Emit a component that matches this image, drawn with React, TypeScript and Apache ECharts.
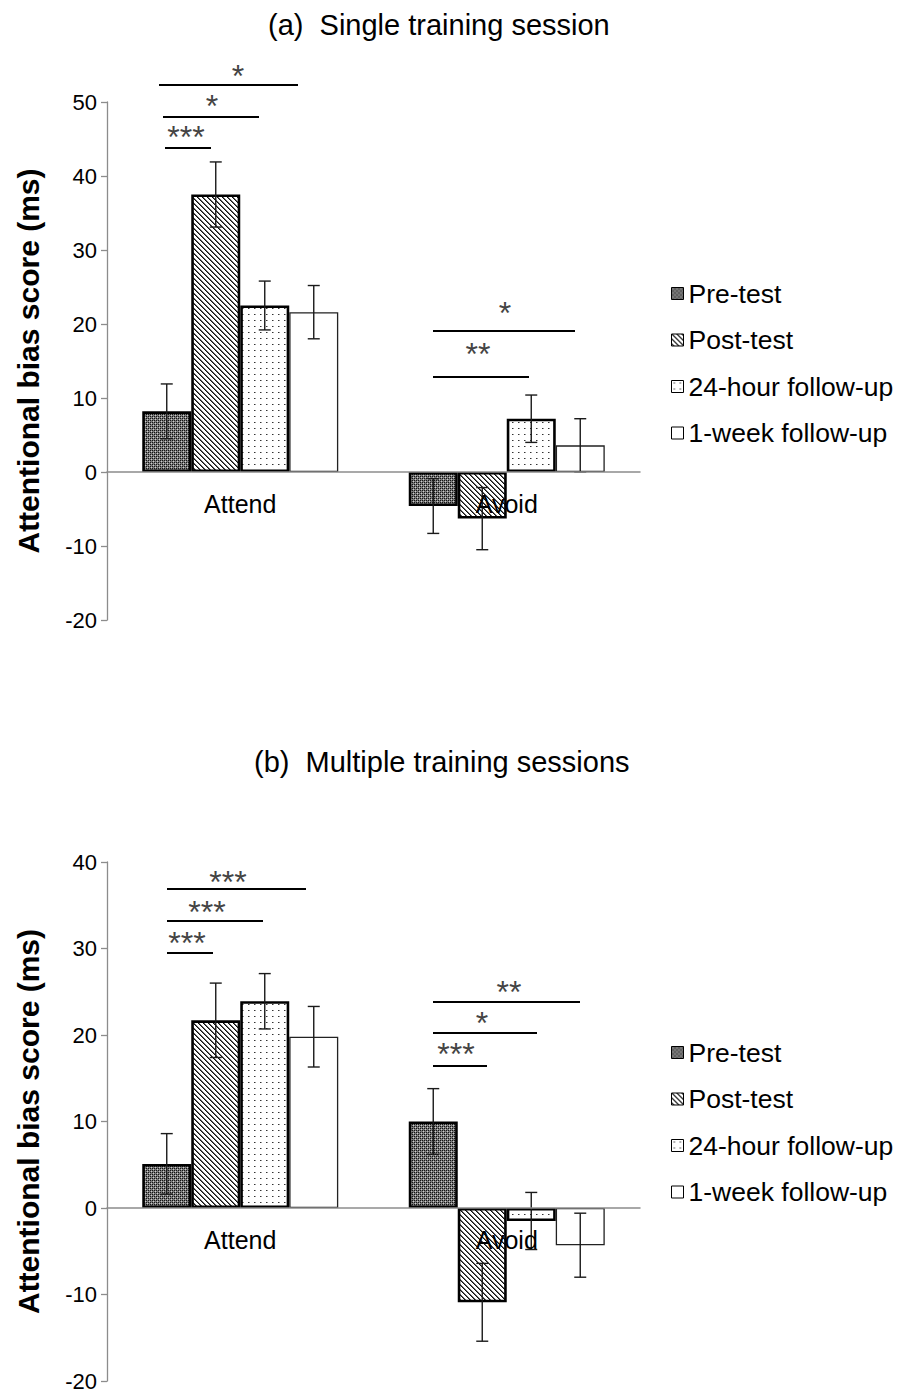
import React, { useEffect, useRef } from "react";
import * as echarts from "echarts";

const categories = ["Attend", "Avoid"];
const seriesNames = ["Pre-test", "Post-test", "24-hour follow-up", "1-week follow-up"];
const yTicksA = { min: -20, max: 50, interval: 10 };
const yTicksB = { min: -20, max: 40, interval: 10 };

// (a) Single training session: means and standard errors [Attend, Avoid]
const singlePre = [8.2, -4.6];
const singlePost = [37.5, -6.3];
const single24h = [22.5, 7.2];
const single1w = [21.6, 3.6];
const singlePreErr = [3.7, 3.7];
const singlePostErr = [4.4, 4.2];
const single24hErr = [3.3, 3.2];
const single1wErr = [3.6, 3.6];

// (b) Multiple training sessions
const multiPre = [5.1, 10.0];
const multiPost = [21.7, -10.9];
const multi24h = [23.9, -1.5];
const multi1w = [19.8, -4.3];
const multiPreErr = [3.5, 3.8];
const multiPostErr = [4.3, 4.5];
const multi24hErr = [3.2, 3.3];
const multi1wErr = [3.5, 3.7];

// significance annotations (labels)
const sigA = [
  { label: "*", x1: 159, x2: 298, y: 85, tx: 238, ty: 72 },
  { label: "*", x1: 163, x2: 259, y: 117, tx: 212, ty: 102 },
  { label: "***", x1: 165, x2: 211, y: 148, tx: 186, ty: 133 },
  { label: "*", x1: 433, x2: 575, y: 331, tx: 505, ty: 309 },
  { label: "**", x1: 433, x2: 529, y: 377, tx: 478, ty: 350 },
];
const sigB = [
  { label: "***", x1: 167, x2: 306, y: 889, tx: 228, ty: 878 },
  { label: "***", x1: 167, x2: 263, y: 921, tx: 207, ty: 908 },
  { label: "***", x1: 167, x2: 213, y: 953, tx: 187, ty: 939 },
  { label: "**", x1: 433, x2: 580, y: 1002, tx: 509, ty: 988 },
  { label: "*", x1: 433, x2: 537, y: 1033, tx: 482, ty: 1019 },
  { label: "***", x1: 433, x2: 487, y: 1066, tx: 456, ty: 1050 },
];

const FONT = "'Liberation Sans', Arial, sans-serif";
const BAR_W = 49;
const AXIS_COLOR = "#8c8c8c";

function tile(size: number, draw: (ctx: CanvasRenderingContext2D) => void) {
  const c = document.createElement("canvas");
  c.width = size;
  c.height = size;
  const ctx = c.getContext("2d")!;
  draw(ctx);
  return c;
}

function makePatterns() {
  const pre = tile(4, (ctx) => {
    ctx.fillStyle = "#7a7a7a";
    ctx.fillRect(0, 0, 4, 4);
    ctx.fillStyle = "#141414";
    ctx.fillRect(0, 0, 1, 1);
    ctx.fillRect(2, 2, 1, 1);
    ctx.fillRect(2, 0, 1, 1);
    ctx.fillRect(0, 2, 1, 1);
    ctx.fillStyle = "#cccccc";
    ctx.fillRect(1, 1, 1, 1);
    ctx.fillRect(3, 3, 1, 1);
  });
  const post = tile(5, (ctx) => {
    ctx.fillStyle = "#ffffff";
    ctx.fillRect(0, 0, 5, 5);
    for (let y = 0; y < 5; y++) {
      for (let x = 0; x < 5; x++) {
        const d = (((x - y) % 5) + 5) % 5;
        if (d === 0) {
          ctx.fillStyle = "#111";
          ctx.fillRect(x, y, 1, 1);
        } else if (d === 1) {
          ctx.fillStyle = "#666";
          ctx.fillRect(x, y, 1, 1);
        }
      }
    }
  });
  const h24 = tile(6, (ctx) => {
    ctx.fillStyle = "#ffffff";
    ctx.fillRect(0, 0, 6, 6);
    ctx.fillStyle = "#333";
    ctx.fillRect(2, 2, 1, 1);
    ctx.fillStyle = "#999";
    ctx.fillRect(3, 2, 1, 1);
  });
  const mk = (c: HTMLCanvasElement) => ({
    image: c,
    repeat: "repeat",
    imageWidth: c.width,
    imageHeight: c.height,
  });
  return [mk(pre), mk(post), mk(h24), "#ffffff"];
}

export default function App() {
  const ref = useRef<HTMLDivElement>(null);
  useEffect(() => {
    document.body.style.margin = "0";
    const chart = echarts.init(ref.current!, undefined, { renderer: "svg" });
    const patterns = makePatterns();

    const panels = [
      {
        means: [singlePre, singlePost, single24h, single1w],
        errs: [singlePreErr, singlePostErr, single24hErr, single1wErr],
      },
      {
        means: [multiPre, multiPost, multi24h, multi1w],
        errs: [multiPreErr, multiPostErr, multi24hErr, multi1wErr],
      },
    ];

    const series: any[] = [];
    panels.forEach((p, gi) => {
      p.means.forEach((vals, k) => {
        series.push({
          type: "bar",
          name: seriesNames[k],
          xAxisIndex: gi,
          yAxisIndex: gi,
          data: vals,
          barWidth: BAR_W,
          barGap: "0%",
          z: 2,
          itemStyle: {
            color: patterns[k],
            borderColor: k === 3 ? "#222" : "#000",
            borderWidth: k === 3 ? 1.3 : 2.6,
          },
        });
      });
      p.means.forEach((vals, k) => {
        const offset = (k - 1.5) * BAR_W;
        series.push({
          type: "custom",
          name: "err" + gi + k,
          xAxisIndex: gi,
          yAxisIndex: gi,
          z: 4,
          encode: { x: 0, y: 1 },
          data: vals.map((m, ci) => [ci, m, p.errs[k][ci]]),
          renderItem: (params: any, api: any) => {
            const ci = api.value(0);
            const m = api.value(1);
            const e = api.value(2);
            const top = api.coord([ci, m + e]);
            const bot = api.coord([ci, m - e]);
            const x = top[0] + offset;
            const st = { stroke: "#1a1a1a", lineWidth: 1.4 };
            return {
              type: "group",
              children: [
                { type: "line", shape: { x1: x, y1: top[1], x2: x, y2: bot[1] }, style: st },
                { type: "line", shape: { x1: x - 6, y1: top[1], x2: x + 6, y2: top[1] }, style: st },
                { type: "line", shape: { x1: x - 6, y1: bot[1], x2: x + 6, y2: bot[1] }, style: st },
              ],
            };
          },
        });
      });
      // category labels drawn at the zero line, over the bars
      series.push({
        type: "custom",
        name: "cat" + gi,
        xAxisIndex: gi,
        yAxisIndex: gi,
        z: 6,
        encode: { x: 0, y: 1 },
        data: categories.map((c, ci) => [ci, 0]),
        renderItem: (params: any, api: any) => {
          const ci = api.value(0);
          const pt = api.coord([ci, 0]);
          return {
            type: "text",
            x: pt[0],
            y: pt[1] + 32,
            style: {
              text: categories[ci],
              fontFamily: FONT,
              fontSize: 25,
              fill: "#000",
              align: "center",
              verticalAlign: "middle",
            },
          };
        },
      });
    });

    const sigGraphics: any[] = [];
    [...sigA, ...sigB].forEach((s) => {
      sigGraphics.push({
        type: "line",
        shape: { x1: s.x1, y1: s.y, x2: s.x2, y2: s.y },
        style: { stroke: "#000", lineWidth: 2 },
        z: 10,
      });
      sigGraphics.push({
        type: "text",
        x: s.tx,
        y: s.ty + 4,
        style: {
          text: s.label,
          fontFamily: FONT,
          fontSize: 32,
          lineHeight: 22,
          fill: "#444",
          align: "center",
          verticalAlign: "middle",
        },
        z: 10,
      });
    });

    const yAxisBase = (t: any) => ({
      type: "value",
      min: t.min,
      max: t.max,
      interval: t.interval,
      name: "Attentional bias score (ms)",
      nameLocation: "middle",
      nameGap: 64,
      nameTextStyle: { fontFamily: FONT, fontSize: 30, fontWeight: "bold", color: "#000" },
      axisLine: { show: true, lineStyle: { color: AXIS_COLOR, width: 1.3 } },
      axisTick: { show: true, length: 6, lineStyle: { color: AXIS_COLOR, width: 1.3 } },
      axisLabel: { fontFamily: FONT, fontSize: 22, color: "#000", margin: 10 },
      splitLine: { show: false },
    });
    const xAxisBase = (gi: number) => ({
      type: "category",
      gridIndex: gi,
      data: categories,
      z: 5,
      axisLine: { onZero: true, lineStyle: { color: AXIS_COLOR, width: 1.5 } },
      axisTick: { show: false },
      axisLabel: { show: false },
    });
    const legendBase = (top: number) => ({
      orient: "vertical",
      left: 666,
      top,
      itemWidth: 12,
      itemHeight: 12,
      itemGap: 19.5,
      icon: "rect",
      data: seriesNames,
      selectedMode: false,
      itemStyle: { borderColor: "#000", borderWidth: 1 },
      textStyle: { fontFamily: FONT, fontSize: 26.5, color: "#000", lineHeight: 26 },
    });

    chart.setOption({
      animation: false,
      backgroundColor: "#ffffff",
      title: [
        {
          text: "(a)  Single training session",
          left: 263,
          top: 5,
          textStyle: { fontFamily: FONT, fontSize: 29, fontWeight: "normal", color: "#000" },
        },
        {
          text: "(b)  Multiple training sessions",
          left: 249,
          top: 742,
          textStyle: { fontFamily: FONT, fontSize: 29, fontWeight: "normal", color: "#000" },
        },
      ],
      legend: [legendBase(275), legendBase(1034)],
      grid: [
        { left: 107, top: 102, width: 533, height: 518 },
        { left: 107, top: 862, width: 533, height: 519 },
      ],
      xAxis: [xAxisBase(0), xAxisBase(1)],
      yAxis: [
        { ...yAxisBase(yTicksA), gridIndex: 0 },
        { ...yAxisBase(yTicksB), gridIndex: 1 },
      ],
      series,
      graphic: sigGraphics,
    });
    return () => chart.dispose();
  }, []);
  return <div ref={ref} style={{ width: 907, height: 1394 }} />;
}
